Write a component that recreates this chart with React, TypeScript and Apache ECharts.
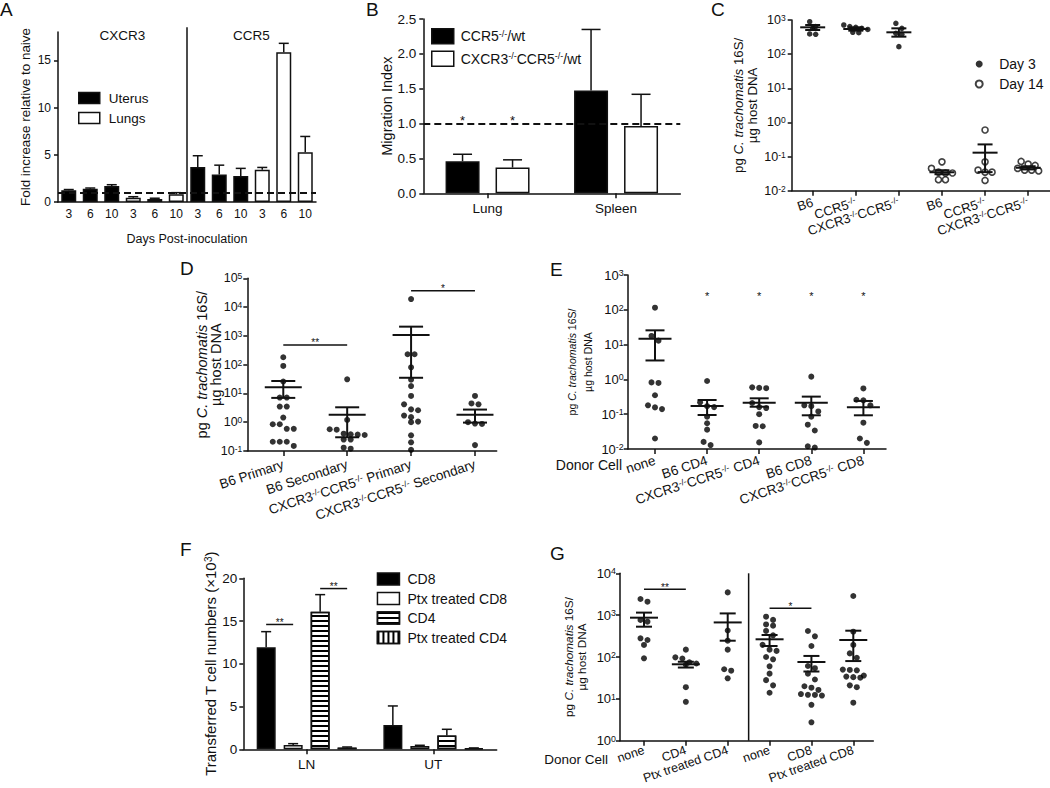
import React, { useEffect, useRef } from 'react';
import * as echarts from 'echarts';

const FONT = '"Liberation Sans", Arial, Helvetica, sans-serif';
const INK = '#111';

// ---------------- Panel A ----------------
const aCategories = ['3', '6', '10', '3', '6', '10', '3', '6', '10', '3', '6', '10'];
const aGroupNames = ['CXCR3', 'CCR5'];
const aGroupRanges = [[0, 5], [6, 11]];
const aGroupLabelLevel = 17.6;
const aDividerAfter = 5;
const aDividerTop = 18.5;
const aUterus = [1.25, 1.4, 1.7, null, null, null, 3.7, 2.92, 2.75, null, null, null];
const aUterusErr = [1.32, 1.48, 1.83, null, null, null, 4.9, 3.9, 3.56, null, null, null];
const aLungs = [null, null, null, 0.46, 0.33, 0.81, null, null, null, 3.42, 15.85, 5.28];
const aLungsErr = [null, null, null, 0.56, 0.4, 0.99, null, null, null, 3.66, 16.8, 6.94];
const aBaseline = 1;
const aTicks = [0, 5, 10, 15];

// ---------------- Panel B ----------------
const bCategories = ['Lung', 'Spleen'];
const bSeriesNames = ['CCR5^{-/-}/wt', 'CXCR3^{-/-}CCR5^{-/-}/wt'];
const bValues = [[0.46, 1.475], [0.37, 0.965]];
const bErrTop = [[0.56, 2.35], [0.48, 1.42]];
const bStars = [['*', ''], ['*', '']];
const bStarLevel = 1.05;
const bBaseline = 1;

// ---------------- Panel C ----------------
const cCategories = ['B6', 'CCR5^{-/-}', 'CXCR3^{-/-}CCR5^{-/-}', 'B6', 'CCR5^{-/-}', 'CXCR3^{-/-}CCR5^{-/-}'];
const cSeriesNames = ['Day 3', 'Day 14'];
const cDay3 = [[890, 640, 570, 390, 380], [714, 640, 610, 570, 530, 435, 425], [800, 570, 407, 380, 166]];
const cDay14 = [[0.07, 0.045, 0.035, 0.033, 0.033, 0.021, 0.021], [0.6, 0.07, 0.04, 0.035, 0.035, 0.02], [0.072, 0.06, 0.055, 0.045, 0.04, 0.04, 0.038]];
const cMean = [610, 545, 436, 0.0347, 0.13, 0.047];
const cSemLow = [509, 487, 325, 0.0304, 0.035, 0.042];
const cSemHigh = [714, 610, 570, 0.0397, 0.227, 0.052];

// ---------------- Panel D ----------------
const dCategories = ['B6 Primary', 'B6 Secondary', 'CXCR3^{-/-}CCR5^{-/-} Primary', 'CXCR3^{-/-}CCR5^{-/-} Secondary'];
const dValues = [
  [181, 90, 26, 7.2, 7.2, 3.5, 3.5, 1.45, 0.85, 0.85, 0.59, 0.59, 0.21, 0.21, 0.21, 0.15],
  [31, 1.2, 0.57, 0.55, 0.4, 0.38, 0.37, 0.36, 0.25, 0.25, 0.13, 0.12],
  [19000, 230, 230, 81, 30, 18, 8.2, 4.2, 2.8, 2.6, 1.7, 1.5, 1.05, 1.0, 0.35, 0.2, 0.11],
  [8.2, 4.5, 4.2, 1.0, 0.9, 0.87, 0.16],
];
const dMean = [16.4, 1.8, 1075, 1.8];
const dSemLow = [7.0, 0.3, 35, 0.97];
const dSemHigh = [27, 3.3, 2090, 2.75];
const dSig = [
  { from: 0, to: 1, level: 483, label: '**' },
  { from: 2, to: 3, level: 37000, label: '*' },
];

// ---------------- Panel E ----------------
const eCategories = ['none', 'B6 CD4', 'CXCR3^{-/-}CCR5^{-/-} CD4', 'B6 CD8', 'CXCR3^{-/-}CCR5^{-/-} CD8'];
const eValues = [
  [115, 17.7, 13, 0.82, 0.79, 0.35, 0.18, 0.157, 0.14, 0.02],
  [0.9, 0.22, 0.17, 0.16, 0.085, 0.055, 0.036, 0.016, 0.013],
  [0.59, 0.57, 0.56, 0.21, 0.16, 0.15, 0.1, 0.046, 0.045, 0.0155],
  [1.2, 0.18, 0.17, 0.12, 0.085, 0.05, 0.034, 0.012, 0.011],
  [0.55, 0.26, 0.25, 0.18, 0.057, 0.02, 0.015],
];
const eMean = [14.8, 0.172, 0.214, 0.214, 0.158];
const eSemLow = [3.5, 0.095, 0.164, 0.093, 0.093];
const eSemHigh = [25.7, 0.256, 0.286, 0.32, 0.24];
const eStars = ['', '*', '*', '*', '*'];
const eStarLevel = 250;

// ---------------- Panel F ----------------
const fCategories = ['LN', 'UT'];
const fSeriesNames = ['CD8', 'Ptx treated CD8', 'CD4', 'Ptx treated CD4'];
const fValues = [[11.93, 2.85], [0.5, 0.39], [16.1, 1.6], [0.2, 0.12]];
const fErrTop = [[13.76, 5.07], [0.66, 0.47], [18.09, 2.34], [0.27, 0.16]];
const fSig = [
  { cat: 0, from: 0, to: 1, level: 14.6, label: '**' },
  { cat: 0, from: 2, to: 3, level: 18.8, label: '**' },
];

// ---------------- Panel G ----------------
const gCategories = ['none', 'CD4', 'Ptx treated CD4', 'none', 'CD8', 'Ptx treated CD8'];
const gValues = [
  [2430, 2100, 767, 700, 280, 255, 194, 93],
  [150, 98, 92, 75, 70, 65, 19, 8.5],
  [3500, 430, 245, 150, 51, 47, 31],
  [920, 770, 600, 560, 420, 330, 195, 150, 140, 100, 88, 60, 40, 28, 21, 14],
  [418, 312, 183, 61, 54, 40, 29, 20, 18.5, 16.3, 13, 12.5, 12.4, 12, 7.2, 2.75],
  [2870, 403, 194, 122, 96, 50, 49, 48, 36, 34, 33, 32, 21, 19, 8.1],
];
const gMean = [870, 67, 670, 265, 76, 255];
const gSemLow = [530, 56, 245, 183, 45, 80];
const gSemHigh = [1150, 77, 1100, 336, 106, 425];
const gSig = [
  { from: 0, to: 1, level: 4150, label: '**' },
  { from: 3, to: 4, level: 1460, label: '*' },
];
const gDivider = 2.5;

// ---------------- Layout ----------------
const A_GRID = { left: 58, top: 32, width: 258, height: 170 };
const B_GRID = { left: 423.3, top: 19, width: 257, height: 174.3 };
const C_GRID = { left: 791.7, top: 20, width: 258, height: 170.7 };
const D_GRID = { left: 247.3, top: 278.3, width: 249.4, height: 172.7 };
const E_GRID = { left: 627.7, top: 275, width: 258.3, height: 174 };
const F_GRID = { left: 243.3, top: 578.3, width: 253.4, height: 171 };
const G_GRID = { left: 620, top: 573.3, width: 253.3, height: 167.4 };
const C_X = [-0.487, 5.5];
const D_X = [-0.563, 3.34];
const E_X = [-0.524, 4.434];
const G_X = [-0.573, 5.478];

const richify = (s: string) => s.replace(/\^\{([^}]*)\}/g, '{sup|$1}');
const base = { fontFamily: FONT, color: INK };
const supRich = (fs: number) => ({ sup: { fontSize: fs, verticalAlign: 'top', fontFamily: FONT, color: INK } });
const axisLine = { show: true, onZero: false, lineStyle: { color: INK, width: 1.5 } };
const tick = (len: number, extra: any = {}) => ({ show: true, length: len, inside: false, lineStyle: { color: INK, width: 1.5 }, ...extra });
const off = { show: false };
const yName = 'pg {i|C. trachomatis} 16S/\nµg host DNA';

function swarm(groups: number[][], first: number, grid: any, xr: number[], decades: number, diam: number) {
  const pxX = grid.width / (xr[1] - xr[0]);
  const pxY = grid.height / decades;
  const pts: number[][] = [];
  groups.forEach((vals, gi) => {
    const sorted = [...vals].sort((a, b) => b - a);
    let row: number[] = [];
    let rowY = 0;
    const flush = () => {
      row.forEach((v, i) => pts.push([first + gi + ((i - (row.length - 1) / 2) * diam) / pxX, v]));
      row = [];
    };
    sorted.forEach((v) => {
      const py = -Math.log10(v) * pxY;
      if (row.length && py - rowY >= diam * 0.9) flush();
      if (!row.length) rowY = py;
      row.push(v);
    });
    flush();
  });
  return pts;
}

function meanSem(axis: number, means: number[], lo: number[], hi: number[], meanW: number, capW: number) {
  return {
    type: 'custom', xAxisIndex: axis, yAxisIndex: axis, silent: true, z: 5,
    data: means.map((m, i) => [i, m, lo[i], hi[i]]),
    encode: { x: 0, y: [1, 2, 3] },
    renderItem: (_p: any, api: any) => {
      const x = api.value(0);
      const pm = api.coord([x, api.value(1)]);
      const pl = api.coord([x, api.value(2)]);
      const ph = api.coord([x, api.value(3)]);
      const st = { stroke: INK, lineWidth: 2 };
      return {
        type: 'group', children: [
          { type: 'line', shape: { x1: pm[0] - meanW / 2, y1: pm[1], x2: pm[0] + meanW / 2, y2: pm[1] }, style: st },
          { type: 'line', shape: { x1: ph[0], y1: ph[1], x2: pl[0], y2: pl[1] }, style: st },
          { type: 'line', shape: { x1: ph[0] - capW / 2, y1: ph[1], x2: ph[0] + capW / 2, y2: ph[1] }, style: st },
          { type: 'line', shape: { x1: pl[0] - capW / 2, y1: pl[1], x2: pl[0] + capW / 2, y2: pl[1] }, style: st },
        ],
      };
    },
  };
}

function sigSeries(axis: number, sig: any[], fontSize: number) {
  return {
    type: 'custom', xAxisIndex: axis, yAxisIndex: axis, silent: true, z: 5,
    data: sig.map((s) => [s.from, s.to, s.level]),
    encode: { x: [0, 1], y: 2 },
    renderItem: (p: any, api: any) => {
      const a = api.coord([api.value(0), api.value(2)]);
      const b = api.coord([api.value(1), api.value(2)]);
      return {
        type: 'group', children: [
          { type: 'line', shape: { x1: a[0], y1: a[1], x2: b[0], y2: b[1] }, style: { stroke: INK, lineWidth: 1.5 } },
          { type: 'text', style: { text: sig[p.dataIndex].label, x: (a[0] + b[0]) / 2, y: a[1] - 2, align: 'center', verticalAlign: 'middle', fontSize, fontFamily: FONT, fill: INK } },
        ],
      };
    },
  };
}

function barOffset(i: number, n: number, bw: number, gap: number) {
  return -(n * bw + (n - 1) * gap) / 2 + i * (bw + gap) + bw / 2;
}

function barErr(axis: number, bases: (number | null)[], tops: (number | null)[], offset: number, capW: number) {
  const data: number[][] = [];
  tops.forEach((t, i) => { if (t != null && bases[i] != null) data.push([i, bases[i] as number, t]); });
  return {
    type: 'custom', xAxisIndex: axis, yAxisIndex: axis, silent: true, z: 4,
    data, encode: { x: 0, y: [1, 2] },
    renderItem: (_p: any, api: any) => {
      const b = api.coord([api.value(0), api.value(1)]);
      const t = api.coord([api.value(0), api.value(2)]);
      const x = b[0] + offset;
      const st = { stroke: INK, lineWidth: 1.5 };
      return {
        type: 'group', children: [
          { type: 'line', shape: { x1: x, y1: b[1], x2: x, y2: t[1] }, style: st },
          { type: 'line', shape: { x1: x - capW / 2, y1: t[1], x2: x + capW / 2, y2: t[1] }, style: st },
        ],
      };
    },
  };
}

function starSeries(axis: number, stars: string[], level: number, offset: number, fontSize: number) {
  const data: number[][] = [];
  stars.forEach((s, i) => { if (s) data.push([i, level]); });
  return {
    type: 'custom', xAxisIndex: axis, yAxisIndex: axis, silent: true, z: 5,
    data, encode: { x: 0, y: 1 },
    renderItem: (p: any, api: any) => {
      const c = api.coord([api.value(0), api.value(1)]);
      const idx = data[p.dataIndex][0];
      return { type: 'text', style: { text: stars[idx], x: c[0] + offset, y: c[1], align: 'center', verticalAlign: 'middle', fontSize, fontFamily: FONT, fill: INK } };
    },
  };
}

function dividerSeries(axis: number, x: number, yBottom: number, yTop: number, category: boolean) {
  return {
    type: 'custom', xAxisIndex: axis, yAxisIndex: axis, silent: true, z: 5,
    data: [[x, yBottom, yTop]], encode: { x: 0, y: [1, 2] },
    renderItem: (_p: any, api: any) => {
      const c0 = api.coord([api.value(0), api.value(1)]);
      const c1 = api.coord([api.value(0), api.value(2)]);
      const shift = category ? api.size([1, 0])[0] / 2 : 0;
      return { type: 'line', shape: { x1: c0[0] + shift, y1: c0[1], x2: c1[0] + shift, y2: c1[1] }, style: { stroke: INK, lineWidth: 1.5 } };
    },
  };
}

function logAxis(gi: number, min: number, max: number, fs: number, margin: number, nameFs: number, nameLh: number, nameGap: number) {
  return {
    type: 'log', logBase: 10, gridIndex: gi, min, max,
    axisLine, axisTick: tick(4), splitLine: off, minorTick: off, minorSplitLine: off,
    axisLabel: { ...base, fontSize: fs, margin, formatter: (v: number) => `10{sup|${Math.round(Math.log10(v))}}`, rich: supRich(fs * 0.68) },
    name: yName, nameLocation: 'middle', nameGap, nameRotate: 90, nameMoveOverlap: false,
    nameTextStyle: { ...base, fontSize: nameFs, lineHeight: nameLh, rich: { i: { fontStyle: 'italic', fontSize: nameFs, lineHeight: nameLh, fontFamily: FONT, color: INK } } },
  };
}

function catValueAxis(gi: number, xr: number[], cats: string[], fs: number, rotate: number, margin: number) {
  const ticks = cats.map((_c, i) => i);
  return {
    type: 'value', gridIndex: gi, min: xr[0], max: xr[1],
    axisLine, splitLine: off, axisTick: tick(5, { customValues: ticks }),
    axisLabel: { ...base, fontSize: fs, rotate, margin, customValues: ticks, formatter: (v: number) => richify(cats[Math.round(v)] ?? ''), rich: supRich(fs * 0.65) },
  };
}

function buildOption(): any {
  const fOff = (i: number) => barOffset(i, 4, 19, 8);
  const bOff = (i: number) => barOffset(i, 2, 34, 16);

  const xAxis: any[] = [
    { type: 'category', gridIndex: 0, data: aCategories, axisLine, axisTick: off,
      axisLabel: { ...base, fontSize: 12, margin: 6, interval: 0 },
      name: 'Days Post-inoculation', nameLocation: 'middle', nameGap: 30, nameTextStyle: { ...base, fontSize: 12.5 } },
    { type: 'category', gridIndex: 1, data: bCategories, axisLine, axisTick: tick(5, { alignWithLabel: true }),
      axisLabel: { ...base, fontSize: 13.5, margin: 8 } },
    catValueAxis(2, C_X, cCategories, 13, 18, 11),
    catValueAxis(3, D_X, dCategories, 13.5, 18, 13),
    catValueAxis(4, E_X, eCategories, 13.5, 18, 11),
    { type: 'category', gridIndex: 5, data: fCategories, axisLine, axisTick: tick(5, { alignWithLabel: true }),
      axisLabel: { ...base, fontSize: 13.5, margin: 8 } },
    catValueAxis(6, G_X, gCategories, 12.5, 19, 9),
  ];

  const yAxis: any[] = [
    { type: 'value', gridIndex: 0, min: 0, max: 18, axisLine, splitLine: off,
      axisTick: tick(4, { customValues: aTicks }),
      axisLabel: { ...base, fontSize: 12, margin: 7, customValues: aTicks },
      name: 'Fold increase relative to naive', nameLocation: 'middle', nameGap: 26, nameMoveOverlap: false,
      nameTextStyle: { ...base, fontSize: 13.4 } },
    { type: 'value', gridIndex: 1, min: 0, max: 2.5, interval: 0.5, axisLine, splitLine: off, axisTick: tick(4),
      axisLabel: { ...base, fontSize: 13.5, margin: 7, formatter: (v: number) => v.toFixed(1) },
      name: 'Migration Index', nameLocation: 'middle', nameGap: 29, nameMoveOverlap: false,
      nameTextStyle: { ...base, fontSize: 14.5 } },
    logAxis(2, 0.01, 1000, 12.5, 6, 13.3, 14, 32),
    logAxis(3, 0.1, 100000, 12.5, 5, 14.5, 14, 24),
    logAxis(4, 0.01, 1000, 13, 4, 10.5, 16, 32),
    { type: 'value', gridIndex: 5, min: 0, max: 20, interval: 5, axisLine, splitLine: off, axisTick: tick(4),
      axisLabel: { ...base, fontSize: 13.5, margin: 6 },
      name: 'Transferred T cell numbers (×10{sup|3})', nameLocation: 'middle', nameGap: 25, nameMoveOverlap: false,
      nameTextStyle: { ...base, fontSize: 15, rich: supRich(10) } },
    logAxis(6, 1, 10000, 13, 4, 11.8, 13.5, 31),
  ];

  const dashed = { color: INK, type: [7, 4], width: 1.8 };
  const series: any[] = [
    // A
    { type: 'bar', name: 'Uterus', xAxisIndex: 0, yAxisIndex: 0, data: aUterus.map((v) => (v == null ? '-' : v)),
      barWidth: 15, barGap: '-100%', silent: true, itemStyle: { color: '#000', borderColor: INK, borderWidth: 1.5 },
      markLine: { silent: true, symbol: ['none', 'none'], label: { show: false }, lineStyle: dashed, data: [{ yAxis: aBaseline }] } },
    { type: 'bar', name: 'Lungs', xAxisIndex: 0, yAxisIndex: 0, data: aLungs.map((v) => (v == null ? '-' : v)),
      barWidth: 15, barGap: '-100%', silent: true, itemStyle: { color: '#fff', borderColor: INK, borderWidth: 1.5 } },
    barErr(0, aUterus, aUterusErr, 0, 10),
    barErr(0, aLungs, aLungsErr, 0, 10),
    dividerSeries(0, aDividerAfter, 0, aDividerTop, true),
    { type: 'custom', xAxisIndex: 0, yAxisIndex: 0, silent: true, z: 5,
      data: aGroupRanges.map((r) => [r[0], r[1], aGroupLabelLevel]), encode: { x: [0, 1], y: 2 },
      renderItem: (p: any, api: any) => {
        const a = api.coord([api.value(0), api.value(2)]);
        const b = api.coord([api.value(1), api.value(2)]);
        return { type: 'text', style: { text: aGroupNames[p.dataIndex], x: (a[0] + b[0]) / 2, y: a[1], align: 'center', verticalAlign: 'middle', fontSize: 13.5, fontFamily: FONT, fill: INK } };
      } },
    // B
    ...bSeriesNames.map((n, i) => ({
      type: 'bar', name: n, xAxisIndex: 1, yAxisIndex: 1, data: bValues[i], barWidth: 34, barGap: '47%', silent: true,
      itemStyle: { color: i === 0 ? '#000' : '#fff', borderColor: INK, borderWidth: 1.5 },
      ...(i === 0 ? { markLine: { silent: true, symbol: ['none', 'none'], label: { show: false }, lineStyle: dashed, data: [{ yAxis: bBaseline }] } } : {}),
    })),
    ...bSeriesNames.map((_n, i) => barErr(1, bValues[i], bErrTop[i], bOff(i), 19)),
    ...bSeriesNames.map((_n, i) => starSeries(1, bStars[i], bStarLevel, bOff(i), 13)),
    // C
    { type: 'scatter', name: cSeriesNames[0], xAxisIndex: 2, yAxisIndex: 2, silent: true, z: 3, symbol: 'circle', symbolSize: 5.5,
      itemStyle: { color: '#000' }, data: swarm(cDay3, 0, C_GRID, C_X, 5, 6) },
    { type: 'scatter', name: cSeriesNames[1], xAxisIndex: 2, yAxisIndex: 2, silent: true, z: 3, symbol: 'circle', symbolSize: 6,
      itemStyle: { color: '#fff', borderColor: INK, borderWidth: 1.6 }, data: swarm(cDay14, 3, C_GRID, C_X, 5, 7) },
    meanSem(2, cMean, cSemLow, cSemHigh, 25, 15),
    // D
    { type: 'scatter', xAxisIndex: 3, yAxisIndex: 3, silent: true, z: 3, symbol: 'circle', symbolSize: 6,
      itemStyle: { color: '#000' }, data: swarm(dValues, 0, D_GRID, D_X, 6, 7) },
    meanSem(3, dMean, dSemLow, dSemHigh, 37, 24),
    sigSeries(3, dSig, 10),
    // E
    { type: 'scatter', xAxisIndex: 4, yAxisIndex: 4, silent: true, z: 3, symbol: 'circle', symbolSize: 6,
      itemStyle: { color: '#000' }, data: swarm(eValues, 0, E_GRID, E_X, 5, 7) },
    meanSem(4, eMean, eSemLow, eSemHigh, 33, 19),
    starSeries(4, eStars, eStarLevel, 0, 11),
    // F
    ...fSeriesNames.map((n, i) => ({
      type: 'bar', name: n, xAxisIndex: 5, yAxisIndex: 5, data: fValues[i], barWidth: 19, barGap: '42%', silent: true,
      itemStyle: {
        color: i === 0 ? '#000' : '#fff', borderColor: INK, borderWidth: 1.5,
        ...(i === 2 ? { decal: { symbol: 'rect', symbolSize: 1, dashArrayX: [1, 0], dashArrayY: [1.2, 2.2], rotation: 0, color: '#000' } } : {}),
        ...(i === 3 ? { decal: { symbol: 'rect', symbolSize: 1, dashArrayX: [1.2, 2.2], dashArrayY: [1, 0], rotation: 0, color: '#000' } } : {}),
      },
    })),
    ...fSeriesNames.map((_n, i) => barErr(5, fValues[i], fErrTop[i], fOff(i), 10)),
    { type: 'custom', xAxisIndex: 5, yAxisIndex: 5, silent: true, z: 5,
      data: fSig.map((s) => [s.cat, s.level]), encode: { x: 0, y: 1 },
      renderItem: (p: any, api: any) => {
        const s = fSig[p.dataIndex];
        const c = api.coord([api.value(0), api.value(1)]);
        const x1 = c[0] + fOff(s.from);
        const x2 = c[0] + fOff(s.to);
        return { type: 'group', children: [
          { type: 'line', shape: { x1, y1: c[1], x2, y2: c[1] }, style: { stroke: INK, lineWidth: 1.5 } },
          { type: 'text', style: { text: s.label, x: (x1 + x2) / 2, y: c[1] - 2, align: 'center', verticalAlign: 'middle', fontSize: 10, fontFamily: FONT, fill: INK } },
        ] };
      } },
    // G
    { type: 'scatter', xAxisIndex: 6, yAxisIndex: 6, silent: true, z: 3, symbol: 'circle', symbolSize: 6,
      itemStyle: { color: '#000' }, data: swarm(gValues, 0, G_GRID, G_X, 4, 7) },
    meanSem(6, gMean, gSemLow, gSemHigh, 28, 16),
    sigSeries(6, gSig, 10),
    dividerSeries(6, gDivider, 1, 10000, false),
  ];

  const legendCommon = { orient: 'vertical', padding: 0, selectedMode: false };
  const legend = [
    { ...legendCommon, data: ['Uterus', 'Lungs'], left: 78, top: 91, itemWidth: 21, itemHeight: 11, itemGap: 6, icon: 'rect',
      itemStyle: { borderColor: INK, borderWidth: 1.5 }, textStyle: { ...base, fontSize: 13.5, padding: [0, 0, 0, 4] } },
    { ...legendCommon, data: bSeriesNames, left: 431, top: 28, itemWidth: 22, itemHeight: 15, itemGap: 6, icon: 'rect',
      itemStyle: { borderColor: INK, borderWidth: 1.5 }, formatter: (n: string) => richify(n),
      textStyle: { ...base, fontSize: 14, padding: [0, 0, 0, 2], rich: supRich(9) } },
    { ...legendCommon, data: cSeriesNames, left: 974.7, top: 57, itemWidth: 14, itemHeight: 7, itemGap: 6,
      textStyle: { ...base, fontSize: 14, padding: [0, 0, 0, 8] } },
    { ...legendCommon, data: fSeriesNames, left: 376.7, top: 572, itemWidth: 22, itemHeight: 12, itemGap: 5.5, icon: 'rect',
      itemStyle: { borderColor: INK, borderWidth: 1.5 }, textStyle: { ...base, fontSize: 14, padding: [0, 0, 0, 3] } },
  ];

  const letter = (t: string, x: number, y: number) => ({ type: 'text', left: x, top: y, style: { text: t, fontSize: 19, fontFamily: FONT, fill: INK } });
  const graphic = [
    letter('A', 0, 0), letter('B', 366, 0), letter('C', 711, 0),
    letter('D', 180, 259), letter('E', 550, 260), letter('F', 180, 540), letter('G', 550, 544),
    { type: 'text', x: 622, y: 465, style: { text: 'Donor Cell', align: 'right', verticalAlign: 'middle', fontSize: 14, fontFamily: FONT, fill: INK } },
    { type: 'text', x: 608, y: 759, style: { text: 'Donor Cell', align: 'right', verticalAlign: 'middle', fontSize: 13.5, fontFamily: FONT, fill: INK } },
  ];

  return {
    animation: false,
    backgroundColor: '#fff',
    textStyle: { fontFamily: FONT, color: INK },
    grid: [A_GRID, B_GRID, C_GRID, D_GRID, E_GRID, F_GRID, G_GRID].map((g) => ({ ...g, containLabel: false, outerBoundsMode: 'none' })),
    xAxis, yAxis, series, legend, graphic,
  };
}

export default function App() {
  const ref = useRef<HTMLDivElement>(null);
  useEffect(() => {
    const chart = echarts.init(ref.current as HTMLDivElement, undefined, { renderer: 'svg' });
    chart.setOption(buildOption());
    return () => chart.dispose();
  }, []);
  return <div ref={ref} style={{ position: 'fixed', left: 0, top: 0, width: 1050, height: 788, background: '#fff' }} />;
}
